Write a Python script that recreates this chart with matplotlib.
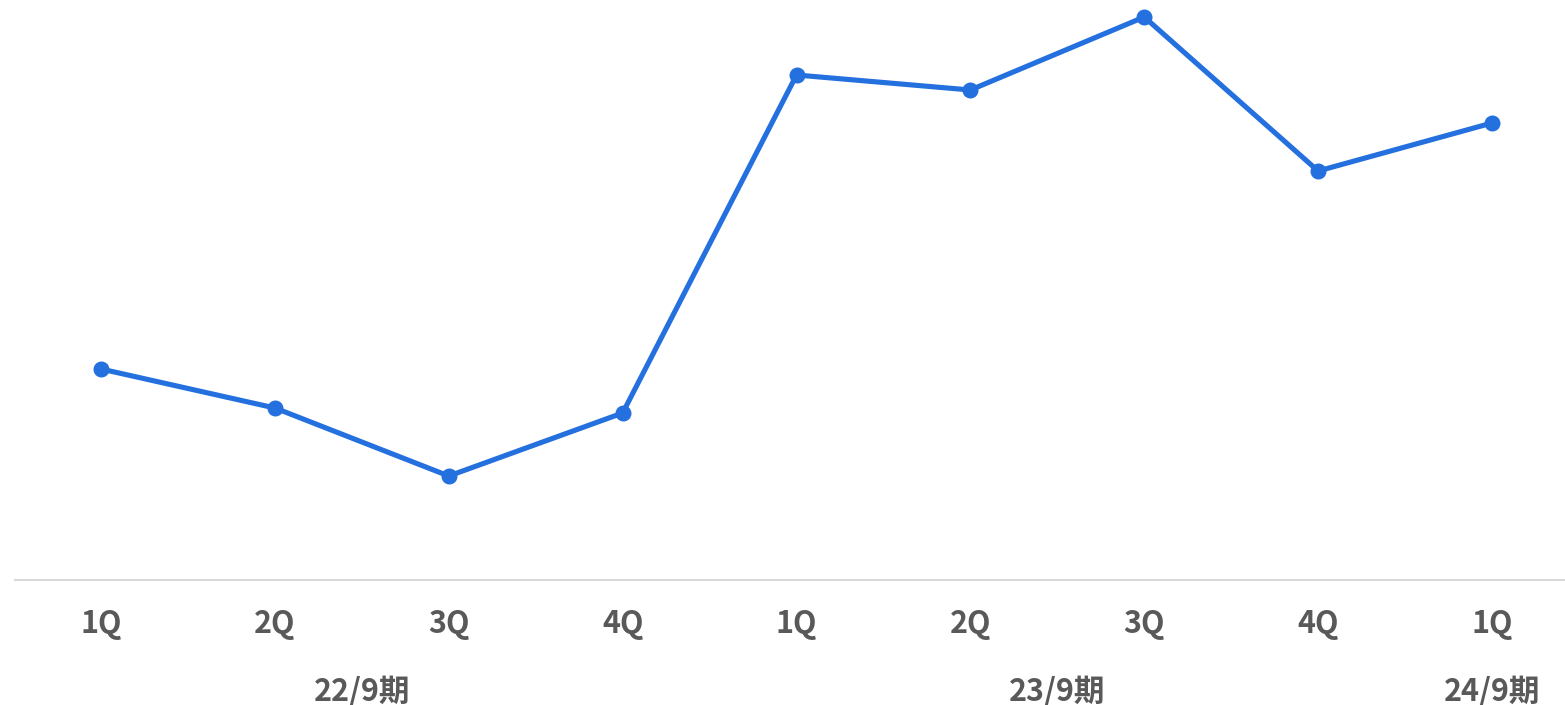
import matplotlib
matplotlib.use("Agg")
import matplotlib.pyplot as plt

plt.rcParams['font.family'] = ['Noto Sans CJK JP', 'DejaVu Sans']

quarters = ["1Q", "2Q", "3Q", "4Q", "1Q", "2Q", "3Q", "4Q", "1Q"]
values = [211, 172, 104, 167, 505, 490, 563, 409, 457]
periods = ["22/9期", "23/9期", "24/9期"]
period_spans = [(0, 3), (4, 7), (8, 8)]

W, H = 1565, 705
fig = plt.figure(figsize=(W / 100, H / 100), dpi=100)
ax = fig.add_axes([15 / W, (H - 580) / H, 1 - 15 / W, 580 / H])

x = list(range(len(values)))
ax.plot(x, values, color="#2370DE", lw=3.7, marker="o", markersize=10.5,
        solid_joinstyle="round", clip_on=False, zorder=3)

ax.set_xlim(-0.495, 8.42)
ax.set_ylim(0, 580)
for s in ["top", "right", "left"]:
    ax.spines[s].set_visible(False)
ax.spines["bottom"].set_color("#d9d9d9")
ax.spines["bottom"].set_linewidth(1.5)
ax.set_yticks([])
ax.set_xticks(x)
ax.set_xticklabels(quarters, fontsize=22, fontweight="bold", color="#595959")
ax.tick_params(axis="x", length=0, pad=20)

for label, (a, b) in zip(periods, period_spans):
    ax.text((a + b) / 2, -112, label, transform=ax.transData, ha="center", va="center",
            fontsize=22, fontweight="bold", color="#595959", clip_on=False)

fig.savefig("out.png", dpi=100)
